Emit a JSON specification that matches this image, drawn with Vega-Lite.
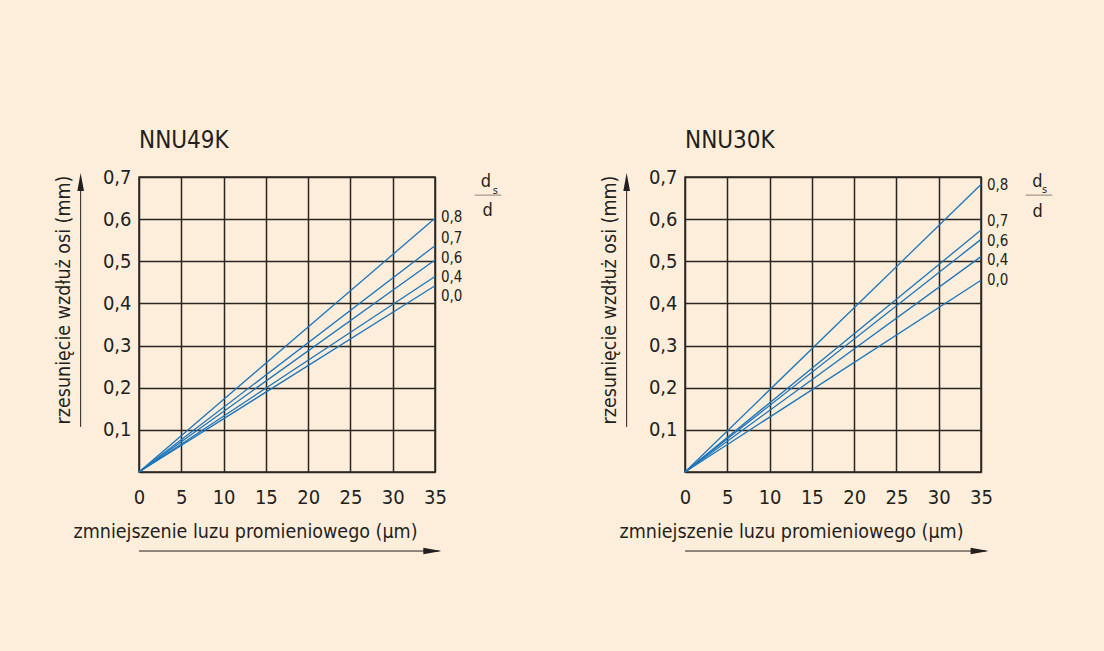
{
  "$schema": "https://vega.github.io/schema/vega-lite/v6.json",
  "background": "#fdeedb",
  "padding": {"left": 52, "top": 128, "right": 52, "bottom": 98},
  "spacing": 250,
  "bounds": "flush",
  "config": {
    "font": "Liberation Sans Narrow, DejaVu Sans Condensed, Roboto, sans-serif",
    "view": {"stroke": "#2a2422", "strokeWidth": 1.5},
    "axis": {
      "grid": true, "gridColor": "#2a2422", "gridOpacity": 1, "gridWidth": 1.5,
      "domain": false, "ticks": false, "labelFontSize": 20, "labelColor": "#231f20",
      "labelFlush": false, "labelOverlap": false,
      "titleFontSize": 19.5, "titleFontWeight": "normal", "titleColor": "#231f20"
    },
    "title": {"anchor": "start", "frame": "group", "fontSize": 24, "fontWeight": "normal", "color": "#231f20", "baseline": "alphabetic", "offset": 14},
    "text": {"color": "#231f20"}
  },
  "datasets": {
    "left": [
      {"ds": "0,8", "x": 0, "y": 0}, {"ds": "0,8", "x": 35, "y": 0.602},
      {"ds": "0,7", "x": 0, "y": 0}, {"ds": "0,7", "x": 35, "y": 0.537},
      {"ds": "0,6", "x": 0, "y": 0}, {"ds": "0,6", "x": 35, "y": 0.503},
      {"ds": "0,4", "x": 0, "y": 0}, {"ds": "0,4", "x": 35, "y": 0.464},
      {"ds": "0,0", "x": 0, "y": 0}, {"ds": "0,0", "x": 35, "y": 0.442}
    ],
    "leftLabels": [
      {"ds": "0,8", "y": 0.604}, {"ds": "0,7", "y": 0.555}, {"ds": "0,6", "y": 0.508},
      {"ds": "0,4", "y": 0.463}, {"ds": "0,0", "y": 0.418}
    ],
    "right": [
      {"ds": "0,8", "x": 0, "y": 0}, {"ds": "0,8", "x": 35, "y": 0.682},
      {"ds": "0,7", "x": 0, "y": 0}, {"ds": "0,7", "x": 35, "y": 0.574},
      {"ds": "0,6", "x": 0, "y": 0}, {"ds": "0,6", "x": 35, "y": 0.552},
      {"ds": "0,4", "x": 0, "y": 0}, {"ds": "0,4", "x": 35, "y": 0.511},
      {"ds": "0,0", "x": 0, "y": 0}, {"ds": "0,0", "x": 35, "y": 0.455}
    ],
    "rightLabels": [
      {"ds": "0,8", "y": 0.682}, {"ds": "0,7", "y": 0.596}, {"ds": "0,6", "y": 0.549},
      {"ds": "0,4", "y": 0.503}, {"ds": "0,0", "y": 0.455}
    ],
    "one": [{}]
  },
  "hconcat": [
    {
      "width": 296, "height": 295,
      "title": "NNU49K",
      "layer": [
        {
          "data": {"name": "left"},
          "mark": {"type": "line", "color": "#1b75bb", "strokeWidth": 1.3},
          "encoding": {
            "x": {"field": "x", "type": "quantitative", "scale": {"domain": [0, 35], "nice": false, "zero": false},
              "axis": {"values": [0, 5, 10, 15, 20, 25, 30, 35], "labelPadding": 15, "title": "zmniejszenie luzu promieniowego (µm)", "titleX": -66, "titleY": 65, "titleAlign": "left", "titleBaseline": "alphabetic"}},
            "y": {"field": "y", "type": "quantitative", "scale": {"domain": [0, 0.7], "nice": false},
              "axis": {"values": [0, 0.1, 0.2, 0.3, 0.4, 0.5, 0.6, 0.7], "labelPadding": 8, "labelExpr": "datum.value == 0 ? '' : replace(format(datum.value, '.1f'), '.', ',')", "title": "rzesunięcie wzdłuż osi (mm)", "titleX": -76, "titleY": 122.5, "titleAngle": 270, "titleAlign": "center", "titleBaseline": "middle"}},
            "detail": {"field": "ds"}
          }
        },
        {
          "data": {"name": "leftLabels"},
          "mark": {"type": "text", "align": "left", "baseline": "middle", "dx": 6, "fontSize": 15},
          "encoding": {"x": {"datum": 35}, "y": {"field": "y", "type": "quantitative"}, "text": {"field": "ds"}}
        },
        {
          "data": {"name": "one"},
          "mark": {"type": "text", "align": "center", "baseline": "middle", "fontSize": 18},
          "encoding": {"x": {"datum": 41.03}, "y": {"datum": 0.687}, "text": {"value": "d"}}
        },
        {
          "data": {"name": "one"},
          "mark": {"type": "text", "align": "center", "baseline": "middle", "fontSize": 11},
          "encoding": {"x": {"datum": 42.13}, "y": {"datum": 0.667}, "text": {"value": "s"}}
        },
        {
          "data": {"name": "one"},
          "mark": {"type": "text", "align": "center", "baseline": "middle", "fontSize": 18},
          "encoding": {"x": {"datum": 41.22}, "y": {"datum": 0.619}, "text": {"value": "d"}}
        },
        {
          "data": {"name": "one"},
          "mark": {"type": "rule", "color": "#8a8480", "strokeWidth": 1},
          "encoding": {"x": {"datum": 39.68}, "x2": {"datum": 42.84}, "y": {"datum": 0.657}}
        },
        {
          "data": {"name": "one"},
          "mark": {"type": "rule", "color": "#231f20", "strokeWidth": 1},
          "encoding": {"x": {"datum": -6.9}, "y": {"datum": 0.107}, "y2": {"datum": 0.69}}
        },
        {
          "data": {"name": "one"},
          "mark": {"type": "point", "shape": "M0,0L-0.37,2L0.37,2Z", "size": 324, "filled": true, "color": "#231f20", "opacity": 1, "strokeWidth": 0},
          "encoding": {"x": {"datum": -6.9}, "y": {"datum": 0.7096}}
        },
        {
          "data": {"name": "one"},
          "mark": {"type": "rule", "color": "#231f20", "strokeWidth": 1},
          "encoding": {"x": {"datum": 0}, "x2": {"datum": 35.5}, "y": {"datum": -0.1875}}
        },
        {
          "data": {"name": "one"},
          "mark": {"type": "point", "shape": "M0,0L-2,-0.37L-2,0.37Z", "size": 324, "filled": true, "color": "#231f20", "opacity": 1, "strokeWidth": 0},
          "encoding": {"x": {"datum": 35.75}, "y": {"datum": -0.1875}}
        }
      ]
    },
    {
      "width": 296, "height": 295,
      "title": "NNU30K",
      "layer": [
        {
          "data": {"name": "right"},
          "mark": {"type": "line", "color": "#1b75bb", "strokeWidth": 1.3},
          "encoding": {
            "x": {"field": "x", "type": "quantitative", "scale": {"domain": [0, 35], "nice": false, "zero": false},
              "axis": {"values": [0, 5, 10, 15, 20, 25, 30, 35], "labelPadding": 15, "title": "zmniejszenie luzu promieniowego (µm)", "titleX": -66, "titleY": 65, "titleAlign": "left", "titleBaseline": "alphabetic"}},
            "y": {"field": "y", "type": "quantitative", "scale": {"domain": [0, 0.7], "nice": false},
              "axis": {"values": [0, 0.1, 0.2, 0.3, 0.4, 0.5, 0.6, 0.7], "labelPadding": 8, "labelExpr": "datum.value == 0 ? '' : replace(format(datum.value, '.1f'), '.', ',')", "title": "rzesunięcie wzdłuż osi (mm)", "titleX": -76, "titleY": 122.5, "titleAngle": 270, "titleAlign": "center", "titleBaseline": "middle"}},
            "detail": {"field": "ds"}
          }
        },
        {
          "data": {"name": "rightLabels"},
          "mark": {"type": "text", "align": "left", "baseline": "middle", "dx": 6, "fontSize": 15},
          "encoding": {"x": {"datum": 35}, "y": {"field": "y", "type": "quantitative"}, "text": {"field": "ds"}}
        },
        {
          "data": {"name": "one"},
          "mark": {"type": "text", "align": "center", "baseline": "middle", "fontSize": 18},
          "encoding": {"x": {"datum": 41.67}, "y": {"datum": 0.687}, "text": {"value": "d"}}
        },
        {
          "data": {"name": "one"},
          "mark": {"type": "text", "align": "center", "baseline": "middle", "fontSize": 11},
          "encoding": {"x": {"datum": 42.53}, "y": {"datum": 0.669}, "text": {"value": "s"}}
        },
        {
          "data": {"name": "one"},
          "mark": {"type": "text", "align": "center", "baseline": "middle", "fontSize": 18},
          "encoding": {"x": {"datum": 41.7}, "y": {"datum": 0.618}, "text": {"value": "d"}}
        },
        {
          "data": {"name": "one"},
          "mark": {"type": "rule", "color": "#8a8480", "strokeWidth": 1},
          "encoding": {"x": {"datum": 40.28}, "x2": {"datum": 43.44}, "y": {"datum": 0.657}}
        },
        {
          "data": {"name": "one"},
          "mark": {"type": "rule", "color": "#231f20", "strokeWidth": 1},
          "encoding": {"x": {"datum": -6.9}, "y": {"datum": 0.107}, "y2": {"datum": 0.69}}
        },
        {
          "data": {"name": "one"},
          "mark": {"type": "point", "shape": "M0,0L-0.37,2L0.37,2Z", "size": 324, "filled": true, "color": "#231f20", "opacity": 1, "strokeWidth": 0},
          "encoding": {"x": {"datum": -6.9}, "y": {"datum": 0.7096}}
        },
        {
          "data": {"name": "one"},
          "mark": {"type": "rule", "color": "#231f20", "strokeWidth": 1},
          "encoding": {"x": {"datum": 0}, "x2": {"datum": 35.6}, "y": {"datum": -0.1875}}
        },
        {
          "data": {"name": "one"},
          "mark": {"type": "point", "shape": "M0,0L-2,-0.37L-2,0.37Z", "size": 324, "filled": true, "color": "#231f20", "opacity": 1, "strokeWidth": 0},
          "encoding": {"x": {"datum": 35.9}, "y": {"datum": -0.1875}}
        }
      ]
    }
  ]
}
